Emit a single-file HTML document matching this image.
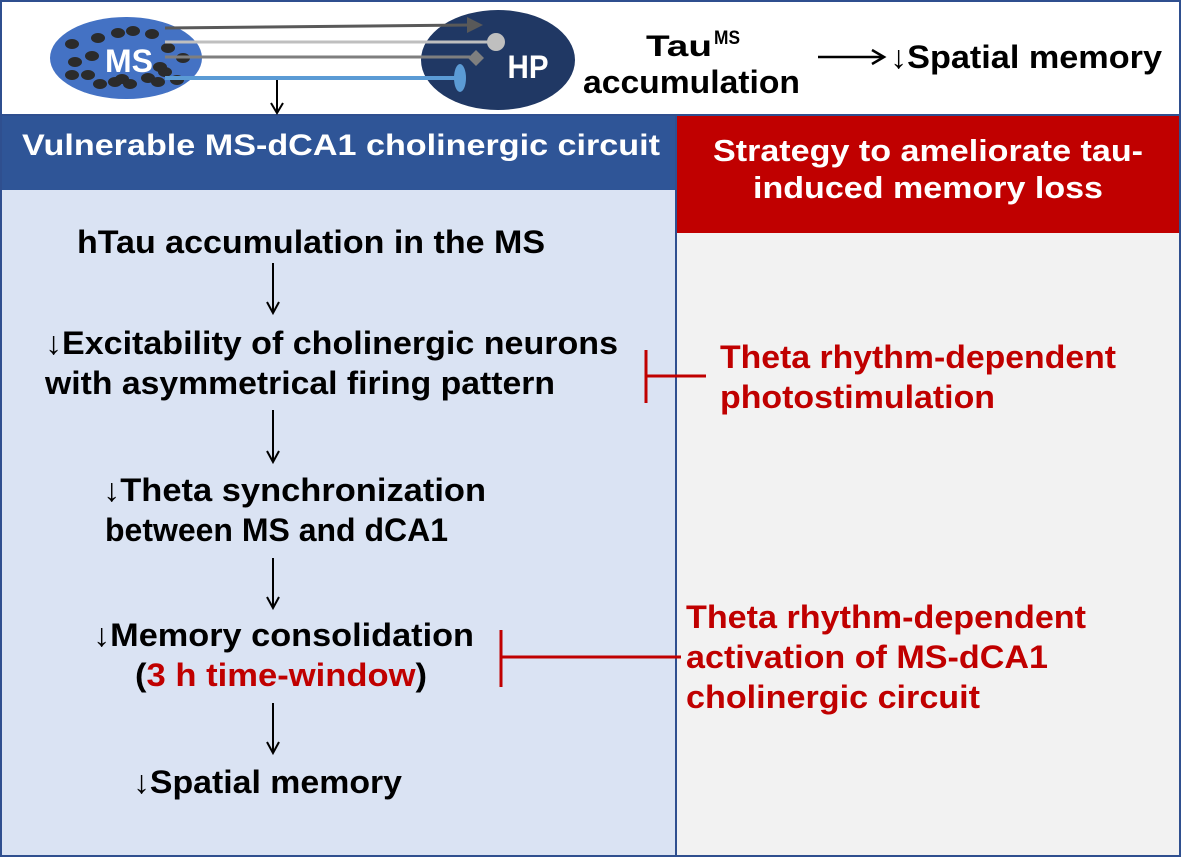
<!DOCTYPE html>
<html><head><meta charset="utf-8"><style>
html,body{margin:0;padding:0;background:#fff}
svg{display:block}
text{font-family:"Liberation Sans",Arial,sans-serif;font-weight:bold}
</style></head><body>
<svg width="1181" height="858" viewBox="0 0 1181 858" xmlns="http://www.w3.org/2000/svg">
<rect x="0" y="0" width="1181" height="858" fill="#fff"/>
<rect x="2" y="115" width="674" height="740" fill="#dae3f3"/>
<rect x="676" y="115" width="503" height="740" fill="#f2f2f2"/>
<rect x="2" y="115" width="674" height="75" fill="#2f5597"/>
<rect x="676" y="115" width="503" height="118" fill="#c00000"/>
<line x1="676" y1="115" x2="676" y2="855" stroke="#2f4f8f" stroke-width="2"/>
<line x1="2" y1="115" x2="1179" y2="115" stroke="#2f4f8f" stroke-width="2"/>
<rect x="1" y="1" width="1179" height="855" fill="none" stroke="#2f4f8f" stroke-width="2"/>

<ellipse cx="126" cy="58" rx="76" ry="41" fill="#4472c4"/>
<g fill="#2b2b2b">
<ellipse cx="72" cy="44" rx="7" ry="5"/><ellipse cx="98" cy="38" rx="7" ry="5"/>
<ellipse cx="118" cy="33" rx="7" ry="5"/><ellipse cx="133" cy="31" rx="7" ry="5"/>
<ellipse cx="152" cy="34" rx="7" ry="5"/><ellipse cx="75" cy="62" rx="7" ry="5"/>
<ellipse cx="92" cy="56" rx="7" ry="5"/><ellipse cx="168" cy="48" rx="7" ry="5"/>
<ellipse cx="183" cy="58" rx="7" ry="5"/><ellipse cx="72" cy="75" rx="7" ry="5"/>
<ellipse cx="88" cy="75" rx="7" ry="5"/><ellipse cx="100" cy="84" rx="7" ry="5"/>
<ellipse cx="115" cy="82" rx="7" ry="5"/><ellipse cx="122" cy="79" rx="7" ry="5"/>
<ellipse cx="130" cy="84" rx="7" ry="5"/><ellipse cx="148" cy="78" rx="7" ry="5"/>
<ellipse cx="158" cy="82" rx="7" ry="5"/><ellipse cx="165" cy="72" rx="7" ry="5"/>
<ellipse cx="160" cy="67" rx="7" ry="5"/><ellipse cx="177" cy="80" rx="7" ry="5"/>
</g>
<text x="129" y="72" font-size="32" fill="#fff" text-anchor="middle" textLength="48" lengthAdjust="spacingAndGlyphs">MS</text>

<ellipse cx="498" cy="60" rx="77" ry="50" fill="#203864"/>
<text x="528" y="78" font-size="32" fill="#fff" text-anchor="middle" textLength="41" lengthAdjust="spacingAndGlyphs">HP</text>

<line x1="165" y1="28" x2="470" y2="25" stroke="#595959" stroke-width="3"/>
<polygon points="467,17 483,25 467,33" fill="#595959"/>
<line x1="165" y1="42" x2="490" y2="42" stroke="#bfbfbf" stroke-width="3"/>
<circle cx="496" cy="42" r="9" fill="#bfbfbf"/>
<line x1="165" y1="57" x2="470" y2="57" stroke="#7f7f7f" stroke-width="3"/>
<polygon points="476,50 484,58 476,66 468,58" fill="#7f7f7f"/>
<line x1="165" y1="78" x2="458" y2="78" stroke="#5b9bd5" stroke-width="4"/>
<ellipse cx="460" cy="78" rx="6" ry="14" fill="#5b9bd5"/>
<line x1="277" y1="80" x2="277" y2="112" stroke="#000" stroke-width="2"/>
<polyline points="271,103 277,113 283,103" fill="none" stroke="#000" stroke-width="2"/>

<text x="646" y="56" font-size="30" fill="#000" textLength="66" lengthAdjust="spacingAndGlyphs">Tau</text>
<text x="714" y="44" font-size="19" fill="#000" textLength="26" lengthAdjust="spacingAndGlyphs">MS</text>
<text x="583" y="93" font-size="32" fill="#000" textLength="217" lengthAdjust="spacingAndGlyphs">accumulation</text>
<line x1="818" y1="57" x2="882" y2="57" stroke="#000" stroke-width="2.5"/>
<polyline points="872,50 884,57 872,64" fill="none" stroke="#000" stroke-width="2.5"/>
<text x="890" y="68" font-size="32" fill="#000" textLength="272" lengthAdjust="spacingAndGlyphs">↓Spatial memory</text>

<text x="22" y="155" font-size="30" fill="#fff" textLength="638" lengthAdjust="spacingAndGlyphs">Vulnerable MS-dCA1 cholinergic circuit</text>
<text x="713" y="161" font-size="31" fill="#fff" textLength="430" lengthAdjust="spacingAndGlyphs">Strategy to ameliorate tau-</text>
<text x="753" y="198" font-size="31" fill="#fff" textLength="350" lengthAdjust="spacingAndGlyphs">induced memory loss</text>

<g font-size="32" fill="#000">
<text x="77" y="253" textLength="468" lengthAdjust="spacingAndGlyphs">hTau accumulation in the MS</text>
<text x="45" y="354" textLength="573" lengthAdjust="spacingAndGlyphs">↓Excitability of cholinergic neurons</text>
<text x="45" y="394" textLength="510" lengthAdjust="spacingAndGlyphs">with asymmetrical  firing pattern</text>
<text x="103" y="501" textLength="383" lengthAdjust="spacingAndGlyphs">↓Theta synchronization</text>
<text x="105" y="541" textLength="343" lengthAdjust="spacingAndGlyphs">between MS and dCA1</text>
<text x="93" y="646" textLength="381" lengthAdjust="spacingAndGlyphs">↓Memory consolidation</text>
<text x="135" y="686" textLength="292" lengthAdjust="spacingAndGlyphs">(<tspan fill="#c00000">3 h time-window</tspan>)</text>
<text x="133" y="793" textLength="269" lengthAdjust="spacingAndGlyphs">↓Spatial memory</text>
</g>
<g stroke="#000" stroke-width="2" fill="none">
<line x1="273" y1="263" x2="273" y2="312"/><polyline points="267,302 273,313 279,302"/>
<line x1="273" y1="410" x2="273" y2="461"/><polyline points="267,451 273,462 279,451"/>
<line x1="273" y1="558" x2="273" y2="607"/><polyline points="267,597 273,608 279,597"/>
<line x1="273" y1="703" x2="273" y2="752"/><polyline points="267,742 273,753 279,742"/>
</g>

<g stroke="#c00000" stroke-width="3">
<line x1="646" y1="350" x2="646" y2="403"/><line x1="646" y1="376" x2="706" y2="376"/>
<line x1="501" y1="630" x2="501" y2="687"/><line x1="501" y1="657" x2="681" y2="657"/>
</g>
<g font-size="32" fill="#c00000">
<text x="720" y="368" textLength="396" lengthAdjust="spacingAndGlyphs">Theta rhythm-dependent</text>
<text x="720" y="408" textLength="275" lengthAdjust="spacingAndGlyphs">photostimulation</text>
<text x="686" y="628" textLength="400" lengthAdjust="spacingAndGlyphs">Theta rhythm-dependent</text>
<text x="686" y="668" textLength="362" lengthAdjust="spacingAndGlyphs">activation of MS-dCA1</text>
<text x="686" y="708" textLength="294" lengthAdjust="spacingAndGlyphs">cholinergic circuit</text>
</g>
</svg>
</body></html>
